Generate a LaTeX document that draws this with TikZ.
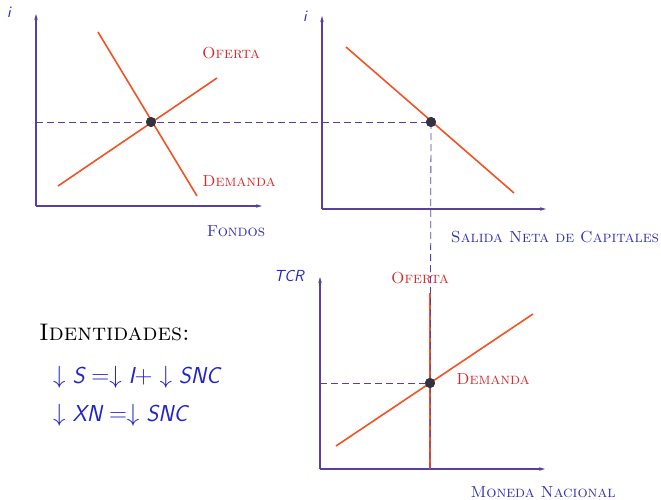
\documentclass[tikz,border=0pt]{standalone}
\usetikzlibrary{arrows.meta}
\definecolor{axcol}{HTML}{5B3FA0}
\definecolor{curvecol}{HTML}{F25224}
\definecolor{labred}{HTML}{D42A2A}
\definecolor{labblue}{HTML}{3030B8}
\definecolor{mathblue}{HTML}{2222CC}
\definecolor{dotcol}{HTML}{33333F}
\newcommand\sfv[1]{\mbox{\sffamily\itshape #1}}
\begin{document}
\begin{tikzpicture}[x=1pt,y=-1pt,
  axis/.style={draw=axcol,line width=1.5pt,-{Stealth[length=6pt,width=3.5pt]}},
  curve/.style={draw=curvecol,line width=1.6pt},
  guide/.style={draw=axcol,line width=0.8pt,dash pattern=on 7pt off 4pt},
  eqdot/.style={circle,fill=dotcol,inner sep=0pt,minimum size=10pt},
  redlab/.style={text=labred,font=\fontsize{16}{19}\selectfont\scshape,inner sep=0pt},
  bluelab/.style={text=labblue,font=\fontsize{16}{19}\selectfont\scshape,inner sep=0pt},
  axlab/.style={text=mathblue,font=\fontsize{16}{19}\selectfont\sffamily\itshape,inner sep=0pt}]
\useasboundingbox (0,0) rectangle (661,500);
% panel 1
\coordinate (o1) at (36,206);
\coordinate (y1) at (36,14);
\coordinate (x1) at (262,206);
\draw[axis] (o1) -- (y1);
\draw[axis] (o1) -- (x1);
\coordinate (s1a) at (58,186);
\coordinate (s1b) at (217,78);
\coordinate (d1a) at (98,32);
\coordinate (d1b) at (197,196);
\draw[curve] (s1a) -- (s1b);
\draw[curve] (d1a) -- (d1b);
\node[eqdot] (e1) at (151,122) {};
\node[axlab] (li1) at (9,12) {i};
\node[redlab] (of1) at (231,53) {Oferta};
\node[redlab] (de1) at (239,181) {Demanda};
\node[bluelab] (fo) at (236,231) {Fondos};
% panel 2
\coordinate (o2) at (322,209);
\coordinate (y2) at (322,16);
\coordinate (x2) at (546,209);
\draw[axis] (o2) -- (y2);
\draw[axis] (o2) -- (x2);
\coordinate (c2a) at (346,47);
\coordinate (c2b) at (514,193);
\draw[curve] (c2a) -- (c2b);
\coordinate (h1) at (36,122);
\node[eqdot] (e2) at (431,122) {};
\node[axlab] (li2) at (305,16) {i};
\node[bluelab] (snc) at (555,237) {Salida Neta de Capitales};
% panel 3
\coordinate (o3) at (320,469);
\coordinate (y3) at (320,277);
\coordinate (x3) at (545,469);
\draw[axis] (o3) -- (y3);
\draw[axis] (o3) -- (x3);
\coordinate (c3a) at (336,446);
\coordinate (c3b) at (533,314);
\coordinate (v3a) at (430,293);
\coordinate (v3b) at (430,469);
\draw[curve] (c3a) -- (c3b);
\draw[curve] (v3a) -- (v3b);
\coordinate (h3) at (320,383);
\node[eqdot] (e3) at (430,383) {};
\draw[guide] (h1) -- (e2.center);
\draw[guide] (e2.center) -- (v3b);
\draw[guide] (h3) -- (e3.center);
\node[eqdot] at (e1) {};
\node[eqdot] at (e2) {};
\node[eqdot] at (e3) {};
\node[axlab] (tcr) at (289,276) {TCR};
\node[redlab] (of3) at (420,278) {Oferta};
\node[redlab] (de3) at (493,379) {Demanda};
\node[bluelab] (mn) at (543,492) {Moneda Nacional};
% identities
\node[anchor=west,inner sep=0pt,font=\fontsize{24}{28}\selectfont\scshape] (id) at (39,332) {Identidades:};
\node[anchor=west,inner sep=0pt,text=mathblue,font=\fontsize{23}{27}\selectfont] (eq1) at (53,377)
  {$\downarrow \sfv{S} = \downarrow \sfv{I} + \downarrow \sfv{SNC}$};
\node[anchor=west,inner sep=0pt,text=mathblue,font=\fontsize{23}{27}\selectfont] (eq2) at (53,415)
  {$\downarrow \sfv{XN} = \downarrow \sfv{SNC}$};
\end{tikzpicture}
\end{document}
